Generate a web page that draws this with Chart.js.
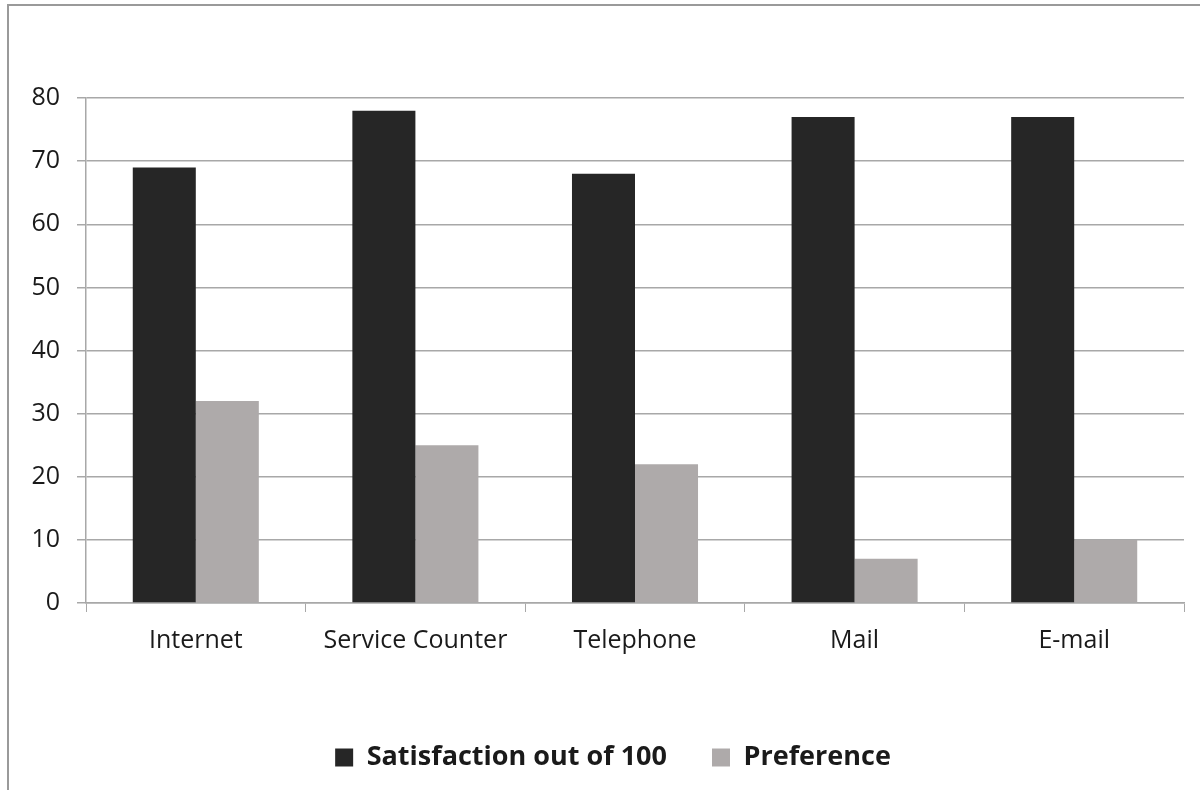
<!DOCTYPE html>
<html>
<head>
<meta charset="utf-8">
<script src="https://cdn.jsdelivr.net/npm/chart.js@4.4.0/dist/chart.umd.min.js"></script>
<style>
  body { margin: 0; background: #fff; overflow: hidden; }
  #frame { position: absolute; left: 7px; top: 4px; width: 1400px; height: 1000px; border: 2px solid #9a9a9a; }
  #wrap { position: absolute; left: 0; top: 0; width: 1200px; height: 790px; }
</style>
</head>
<body>
<div id="frame"></div>
<div id="wrap"><canvas id="myChart" width="1200" height="790"></canvas></div>
<script>
const categories = ['Internet', 'Service Counter', 'Telephone', 'Mail', 'E-mail'];
const satisfaction = [69, 78, 68, 77, 77];
const preference = [32, 25, 22, 7, 10];
const yTicks = [0, 10, 20, 30, 40, 50, 60, 70, 80];

const gridColor = '#a8a8a8';
const textColor = '#1a1a1a';

// legend sits a bit right of the canvas centre in the original
const legendShift = {
  id: 'legendShift',
  afterLayout(chart) { chart.legend.left = 42; }
};

function graf() {
  const ctx = document.getElementById('myChart');
  new Chart(ctx, {
    type: 'bar',
    data: {
      labels: categories,
      datasets: [{
        label: 'Satisfaction out of 100',
        data: satisfaction,
        backgroundColor: '#262626',
        borderWidth: 0
      }, {
        label: 'Preference',
        data: preference,
        backgroundColor: '#aeaaaa',
        borderWidth: 0
      }]
    },
    options: {
      responsive: false,
      animation: false,
      categoryPercentage: 0.574,
      barPercentage: 1.0,
      layout: { padding: { top: 98, right: 16, left: 0, bottom: 9 } },
      plugins: {
        tooltip: { enabled: false },
        legend: {
          position: 'bottom',
          labels: {
            font: { family: 'Open Sans', size: 27, weight: 'bold' },
            color: textColor,
            boxWidth: 18,
            boxHeight: 18,
            padding: 45
          }
        }
      },
      scales: {
        x: {
          afterFit: (scale) => { scale.height = 96; },
          grid: { display: true, drawOnChartArea: false, drawTicks: true, tickLength: 9, color: gridColor, offset: true },
          border: { display: true, color: gridColor, width: 1.5 },
          ticks: { font: { family: 'Open Sans', size: 25 }, color: textColor, padding: 14 }
        },
        y: {
          min: 0,
          max: 80,
          afterFit: (scale) => { scale.width = 86; },
          afterBuildTicks: (scale) => { scale.ticks = yTicks.map(v => ({ value: v })); },
          grid: { color: gridColor, lineWidth: 1.5, tickLength: 9 },
          border: { display: true, color: gridColor, width: 1.5 },
          ticks: { font: { family: 'Open Sans', size: 25 }, color: textColor, padding: 17 }
        }
      }
    },
    plugins: [legendShift]
  });
}

graf();
</script>
</body>
</html>
